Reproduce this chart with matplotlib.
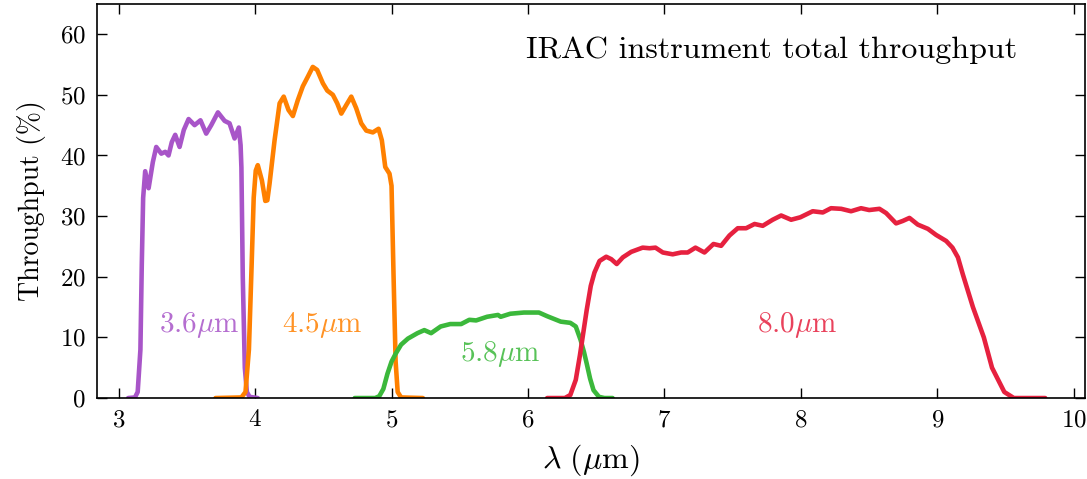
import matplotlib
matplotlib.use("Agg")
import matplotlib.pyplot as plt

plt.rcParams['font.family'] = 'serif'
plt.rcParams['font.serif'] = ['cmr10', 'DejaVu Serif']
plt.rcParams['mathtext.fontset'] = 'cm'
plt.rcParams['axes.formatter.use_mathtext'] = True

# Channel 1 (3.6 um)
wl_36 = [3.07, 3.12, 3.14, 3.16, 3.17, 3.18, 3.195, 3.22, 3.251, 3.276, 3.313, 3.342,
         3.366, 3.39, 3.415, 3.447, 3.478, 3.513, 3.557, 3.60, 3.642, 3.679, 3.728,
         3.777, 3.813, 3.85, 3.881, 3.894, 3.90, 3.91, 3.925, 3.94, 3.96, 4.02]
tp_36 = [0.0, 0.1, 1.0, 8.0, 22.0, 33.0, 37.4, 34.6, 38.9, 41.4, 40.3, 40.6,
         40.0, 42.2, 43.4, 41.4, 44.2, 46.0, 45.0, 45.8, 43.6, 45.0, 47.1,
         45.7, 45.3, 42.8, 44.6, 41.7, 38.0, 20.0, 5.0, 1.0, 0.2, 0.0]
# Channel 2 (4.5 um)
wl_45 = [3.71, 3.90, 3.93, 3.955, 3.975, 3.99, 4.005, 4.02, 4.05, 4.075, 4.09, 4.106,
         4.143, 4.18, 4.21, 4.245, 4.277, 4.313, 4.35, 4.387, 4.423, 4.455, 4.497,
         4.529, 4.57, 4.602, 4.632, 4.668, 4.705, 4.741, 4.778, 4.815, 4.863, 4.905,
         4.929, 4.954, 4.985, 5.00, 5.015, 5.03, 5.045, 5.07, 5.23]
tp_45 = [0.0, 0.1, 1.0, 8.0, 22.0, 33.0, 37.5, 38.4, 35.9, 32.5, 32.6, 35.3,
         42.5, 48.6, 49.7, 47.5, 46.5, 49.1, 51.4, 53.0, 54.6, 54.1, 51.9,
         50.7, 50.0, 48.6, 46.9, 48.3, 49.7, 47.8, 45.3, 44.1, 43.8, 44.4,
         42.5, 38.1, 37.0, 35.0, 20.0, 6.0, 1.0, 0.1, 0.0]
# Channel 3 (5.8 um)
wl_58 = [4.73, 4.88, 4.91, 4.94, 4.97, 5.00, 5.03, 5.07, 5.12, 5.19, 5.24, 5.29, 5.36,
         5.43, 5.51, 5.57, 5.62, 5.70, 5.78, 5.80, 5.87, 5.97, 6.08, 6.14, 6.24, 6.31,
         6.35, 6.385, 6.41, 6.43, 6.455, 6.48, 6.52, 6.56, 6.62]
tp_58 = [0.0, 0.0, 0.3, 1.5, 4.0, 6.0, 7.3, 8.8, 9.8, 10.7, 11.2, 10.7, 11.8,
         12.2, 12.2, 12.9, 12.8, 13.4, 13.7, 13.4, 13.9, 14.1, 14.1, 13.5, 12.6, 12.4,
         11.8, 9.6, 7.6, 5.7, 3.2, 1.3, 0.2, 0.0, 0.0]
# Channel 4 (8.0 um)
wl_80 = [6.14, 6.27, 6.31, 6.35, 6.38, 6.40, 6.43, 6.46, 6.487, 6.524, 6.573, 6.61,
         6.65, 6.695, 6.756, 6.84, 6.89, 6.934, 6.988, 7.06, 7.122, 7.17, 7.227, 7.293,
         7.359, 7.415, 7.476, 7.537, 7.598, 7.66, 7.72, 7.793, 7.855, 7.928, 7.995,
         8.086, 8.16, 8.22, 8.295, 8.367, 8.44, 8.50, 8.575, 8.624, 8.697, 8.746, 8.795,
         8.856, 8.93, 8.99, 9.064, 9.11, 9.15, 9.186, 9.26, 9.34, 9.40, 9.49, 9.56, 9.79]
tp_80 = [0.0, 0.0, 0.5, 3.0, 7.0, 10.0, 14.5, 18.5, 20.7, 22.6, 23.3, 22.9,
         22.1, 23.2, 24.1, 24.8, 24.7, 24.8, 24.0, 23.7, 24.0, 24.0, 24.8, 24.0,
         25.4, 25.1, 26.8, 28.0, 28.0, 28.7, 28.4, 29.4, 30.1, 29.4, 29.8,
         30.8, 30.6, 31.3, 31.2, 30.8, 31.3, 31.0, 31.2, 30.5, 28.8, 29.2, 29.7,
         28.6, 27.9, 26.9, 25.9, 24.8, 23.2, 20.4, 15.0, 10.0, 5.0, 1.0, 0.0, 0.0]

colors = ['#a855c8', '#ff8000', '#3bb83b', '#e6213f']
labels = [r'$3.6\mu\mathrm{m}$', r'$4.5\mu\mathrm{m}$', r'$5.8\mu\mathrm{m}$', r'$8.0\mu\mathrm{m}$']
label_pos = [(3.59, 12.1), (4.49, 12.1), (5.80, 7.2), (7.97, 12.1)]

fig = plt.figure(figsize=(10.87, 4.79), dpi=100)
ax = fig.add_axes([0.089, 0.169, 0.909, 0.823])

for wl, tp, c in zip([wl_36, wl_45, wl_58, wl_80], [tp_36, tp_45, tp_58, tp_80], colors):
    ax.plot(wl, tp, color=c, lw=3.3, solid_joinstyle='round', solid_capstyle='round')

for (x, y), lab, c in zip(label_pos, labels, colors):
    ax.text(x, y, lab, color=c, fontsize=21, ha='center', va='center', alpha=0.85)

ax.text(0.931, 0.883, 'IRAC instrument total throughput', transform=ax.transAxes,
        ha='right', va='center', fontsize=23)

ax.set_xlim(2.84, 10.08)
ax.set_ylim(0, 65)
ax.set_xticks([3, 4, 5, 6, 7, 8, 9, 10])
ax.set_yticks([0, 10, 20, 30, 40, 50, 60])
ax.tick_params(direction='in', top=True, right=True, length=7, width=1, labelsize=18, pad=8)
for s in ax.spines.values():
    s.set_linewidth(1.2)
ax.set_xlabel(r'$\lambda\ (\mu\mathrm{m})$', fontsize=23, labelpad=8)
ax.set_ylabel('Throughput (%)', fontsize=20, labelpad=10)

fig.savefig('out.png', dpi=100)
